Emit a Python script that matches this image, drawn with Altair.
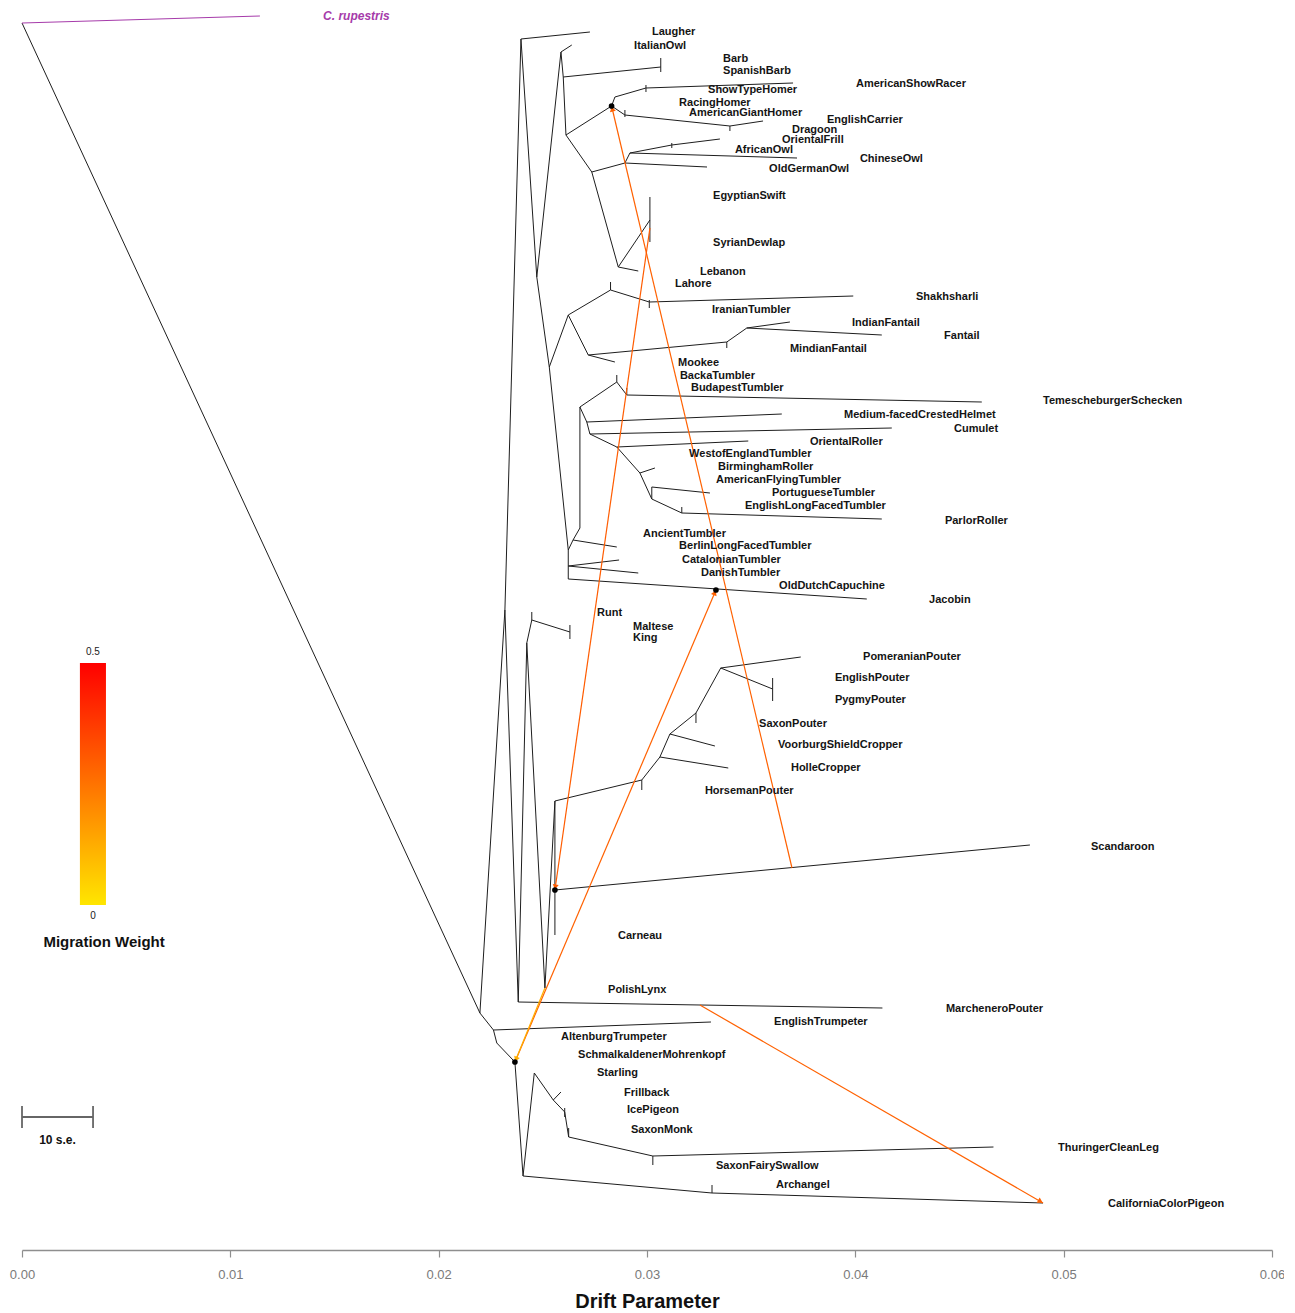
import math
import altair as alt
import pandas as pd

# ------------------------------------------------------------------
# Tree nodes: drift parameter (x) and vertical
# layout position of the drawn tree (y, small = top of the figure)
# ------------------------------------------------------------------
backbone_ids = ["root", "A", "B", "L1", "N2", "N4", "C", "D", "E", "F", "G",
                "NAT", "NAT2", "Q", "R"]
backbone_x = [0.0, 0.02198, 0.02318, 0.02395, 0.02471, 0.02531, 0.02382, 0.02423,
              0.02510, 0.02558, 0.02558, 0.02263, 0.02279, 0.02366, 0.02405]
backbone_y = [23, 1013, 610, 39, 277, 367, 1002, 643, 988, 801, 890,
              1030, 1043, 1062, 1176]

top_ids = ["laugher", "N3", "italian", "N3b", "barb", "N7", "H", "H1", "H2", "showracer",
           "H3", "H4", "carrier", "N8", "owlA", "owlB", "chinese", "owlC", "african",
           "oldgerman", "N9", "swift", "lebanon"]
top_x = [0.02726, 0.02587, 0.02639, 0.02598, 0.03066, 0.02611, 0.02830, 0.02846, 0.02995,
         0.03701, 0.02894, 0.03398, 0.03557, 0.02735, 0.02894, 0.02918, 0.03720, 0.03119,
         0.03350, 0.03288, 0.02862, 0.03014, 0.02958]
top_y = [32, 52, 45, 77, 67, 135, 106, 97, 88, 83, 115, 126, 121, 172, 163, 153, 158, 145,
         139, 167, 267, 220, 271]

fantail_ids = ["N5", "N5a", "N5b", "shakh", "N5c", "mookee", "N5d", "N5e", "indianfan", "fantail"]
fantail_x = [0.02622, 0.02825, 0.03011, 0.03990, 0.02718, 0.02846, 0.03383, 0.03479, 0.03686, 0.04127]
fantail_y = [315, 290, 302, 296, 355, 362, 342, 328, 322, 335]

tumbler_ids = ["N6", "T0", "ancient", "N6b", "berlin", "catalon", "N6c", "J", "jacobin",
               "T1", "T2", "T3", "T4", "temesch", "T5", "medfaced", "T6", "cumulet", "T7",
               "oroller", "T8", "T8b", "T9", "T9b", "portug", "T10", "parlor"]
tumbler_x = [0.02622, 0.02645, 0.02855, 0.02622, 0.02866, 0.02958, 0.02622, 0.03331, 0.04055,
             0.02678, 0.02678, 0.02855, 0.02903, 0.04607, 0.02711, 0.03647, 0.02726, 0.04175,
             0.02855, 0.03486, 0.02966, 0.03038, 0.03023, 0.03023, 0.03302, 0.03167, 0.04127]
tumbler_y = [550, 540, 547, 566, 560, 573, 579, 590, 599, 528, 407, 382, 395, 402, 422, 414,
             434, 428, 447, 441, 473, 468, 499, 487, 493, 513, 519]

pouter_ids = ["marchenero", "runt", "MK", "carneau", "scand", "P1", "P2", "horseman", "P3",
              "holle", "P4", "P5", "pomeranian", "P6"]
pouter_x = [0.04130, 0.02447, 0.02630, 0.02558, 0.04838, 0.02975, 0.03062, 0.03390, 0.03110,
            0.03326, 0.03235, 0.03354, 0.03738, 0.03603]
pouter_y = [1008, 620, 632, 935, 845, 780, 757, 768, 734, 746, 713, 668, 657, 689]

basal_ids = ["trumpeter", "S", "S1", "S1b", "S2", "S3", "S4", "thuringer", "arch", "california"]
basal_x = [0.03307, 0.02459, 0.02550, 0.02587, 0.02605, 0.02624, 0.03028, 0.04663, 0.03312, 0.04901]
basal_y = [1022, 1073, 1100, 1092, 1112, 1137, 1156, 1147, 1193, 1203]

edge_from = ["root", "A", "B", "L1", "L1", "N2", "N3", "N3", "N3b", "N3b", "N7", "H", "H1", "H2",
             "H", "H3", "H4", "N7", "N8", "owlA", "owlA", "owlB", "owlB", "owlC", "N8", "N9", "N9",
             "N2", "N4", "N5", "N5a", "N5b", "N5", "N5c", "N5c", "N5d", "N5e", "N5e",
             "N4", "N6", "T0", "T0", "N6", "N6b", "N6b", "N6b", "N6c", "T1", "T2", "T3", "T4",
             "T2", "T5", "T5", "T6", "T6", "T7", "T7", "T8", "T8", "T9", "T9b", "T9", "T10",
             "B", "C", "C", "D", "runt", "D", "E", "F", "G", "G", "F", "P1", "P2", "P2", "P3",
             "P3", "P4", "P5", "P5",
             "A", "NAT", "NAT", "NAT2", "Q", "R", "S", "S1", "S1", "S2", "S3", "S4", "R", "arch"]
edge_to = ["A", "B", "L1", "laugher", "N2", "N3", "italian", "N3b", "barb", "N7", "H", "H1", "H2",
           "showracer", "H3", "H4", "carrier", "N8", "owlA", "owlB", "oldgerman", "chinese",
           "owlC", "african", "N9", "swift", "lebanon",
           "N4", "N5", "N5a", "N5b", "shakh", "N5c", "mookee", "N5d", "N5e", "indianfan", "fantail",
           "N6", "T0", "ancient", "T1", "N6b", "berlin", "catalon", "N6c", "jacobin", "T2", "T3",
           "T4", "temesch", "T5", "medfaced", "T6", "cumulet", "T7", "oroller", "T8", "T8b",
           "T9", "T9b", "portug", "T10", "parlor",
           "C", "marchenero", "D", "runt", "MK", "E", "F", "G", "carneau", "scand", "P1", "P2",
           "horseman", "P3", "holle", "P4", "P5", "pomeranian", "P6",
           "NAT", "trumpeter", "NAT2", "Q", "R", "S", "S1", "S1b", "S2", "S3", "S4", "thuringer",
           "arch", "california"]

# short vertical bars where two tips split with almost no drift
tick_node = ["barb", "H2", "H3", "H4", "owlC", "swift", "N5a", "N5b", "N5d", "T3", "T4", "T10",
             "runt", "MK", "P1", "P4", "P6", "S2", "S3", "S4", "arch"]
tick_top = [58, 85, 110, 126, 143, 197, 282, 300, 342, 375, 388, 507, 612, 625, 780, 713, 678,
            1108, 1128, 1156, 1185]
tick_bottom = [72, 92, 117, 131, 148, 242, 290, 308, 348, 382, 395, 513, 620, 639, 790, 723, 701,
               1117, 1137, 1165, 1193]

# outgroup
outgroup_name = "C. rupestris"
outgroup_x = 0.01142
outgroup_y = 16
outgroup_label_x = 0.01445

# migration edges (source -> target) and weights
mig_src_x = [0.03696, 0.03014, 0.02366, 0.02510, 0.03254]
mig_src_y = [868, 228, 1062, 988, 1005]
mig_dst_x = [0.02830, 0.02558, 0.03331, 0.02366, 0.04901]
mig_dst_y = [106, 890, 590, 1062, 1203]
mig_weight = [0.29, 0.30, 0.29, 0.12, 0.29]

dot_nodes = ["H", "J", "G", "Q"]

tip_labels = ["Laugher", "ItalianOwl", "Barb", "SpanishBarb", "AmericanShowRacer", "ShowTypeHomer",
              "RacingHomer", "AmericanGiantHomer", "EnglishCarrier", "Dragoon", "OrientalFrill",
              "AfricanOwl", "ChineseOwl", "OldGermanOwl", "EgyptianSwift", "SyrianDewlap",
              "Lebanon", "Lahore", "Shakhsharli", "IranianTumbler", "IndianFantail", "Fantail",
              "MindianFantail", "Mookee", "BackaTumbler", "BudapestTumbler",
              "TemescheburgerSchecken", "Medium-facedCrestedHelmet", "Cumulet", "OrientalRoller",
              "WestofEnglandTumbler", "BirminghamRoller", "AmericanFlyingTumbler",
              "PortugueseTumbler", "EnglishLongFacedTumbler", "ParlorRoller", "AncientTumbler",
              "BerlinLongFacedTumbler", "CatalonianTumbler", "DanishTumbler",
              "OldDutchCapuchine", "Jacobin", "Runt", "Maltese", "King", "PomeranianPouter",
              "EnglishPouter", "PygmyPouter", "SaxonPouter", "VoorburgShieldCropper",
              "HolleCropper", "HorsemanPouter", "Scandaroon", "Carneau", "PolishLynx",
              "MarcheneroPouter", "EnglishTrumpeter", "AltenburgTrumpeter",
              "SchmalkaldenerMohrenkopf", "Starling", "Frillback", "IcePigeon", "SaxonMonk",
              "ThuringerCleanLeg", "SaxonFairySwallow", "Archangel", "CaliforniaColorPigeon"]
tip_label_x = [0.03024, 0.02938, 0.03365, 0.03365, 0.04003, 0.03293, 0.03154, 0.03202, 0.03864,
               0.03696, 0.03648, 0.03422, 0.04022, 0.03586, 0.03317, 0.03317, 0.03254, 0.03134,
               0.04291, 0.03312, 0.03984, 0.04426, 0.03686, 0.03149, 0.03158, 0.03211, 0.04901,
               0.03946, 0.04474, 0.03782, 0.03202, 0.03341, 0.03331, 0.03600, 0.03470, 0.04430,
               0.02981, 0.03154, 0.03168, 0.03259, 0.03634, 0.04354, 0.02760, 0.02933, 0.02933,
               0.04037, 0.03902, 0.03902, 0.03538, 0.03629, 0.03691, 0.03278, 0.05131, 0.02861,
               0.02813, 0.04435, 0.03610, 0.02587, 0.02669, 0.02760, 0.02890, 0.02904, 0.02923,
               0.04973, 0.03331, 0.03619, 0.05213]
tip_label_y = [32, 46, 59, 71, 84, 90, 103, 113, 120, 130, 140, 150, 159, 169, 196, 243, 272, 284,
               297, 310, 323, 336, 349, 363, 376, 388, 401, 415, 429, 442, 454, 467, 480, 493, 506,
               521, 534, 546, 560, 573, 586, 600, 613, 627, 638, 657, 678, 700, 724, 745, 768, 791,
               847, 936, 990, 1009, 1022, 1037, 1055, 1073, 1093, 1110, 1130, 1148, 1166, 1185,
               1204]

# legend (migration weight colour bar) and scale-bar annotations
mig_colors = ["#FFE600", "#FF0000"]      # colour at weight 0 and at weight 0.5
legend_title = "Migration Weight"
legend_max_label = "0.5"
legend_min_label = "0"
legend_bar_x = [0.00278, 0.00403]        # drift extent of the colour bar
legend_bar_y = [663, 905]                # vertical extent of the colour bar
scalebar_text = "10 s.e."
scalebar_len = 0.00341
scalebar_y = 1117

# ------------------------------------------------------------------
W, H = 1250, 1242
X_DOMAIN = [0, 0.06]
Y_DOMAIN = [8, 1250]

pos = {}
for ids, xs, ys in [(backbone_ids, backbone_x, backbone_y), (top_ids, top_x, top_y),
                    (fantail_ids, fantail_x, fantail_y), (tumbler_ids, tumbler_x, tumbler_y),
                    (pouter_ids, pouter_x, pouter_y), (basal_ids, basal_x, basal_y)]:
    for n, x, y in zip(ids, xs, ys):
        pos[n] = (x, y)

seg_rows = [{"x": pos[a][0], "y": pos[a][1], "x2": pos[b][0], "y2": pos[b][1]}
            for a, b in zip(edge_from, edge_to)]
seg_rows += [{"x": pos[n][0], "y": t, "x2": pos[n][0], "y2": b}
             for n, t, b in zip(tick_node, tick_top, tick_bottom)]
seg_df = pd.DataFrame(seg_rows)

out_df = pd.DataFrame([{"x": 0.0, "y": pos["root"][1], "x2": outgroup_x, "y2": outgroup_y}])

mig_df = pd.DataFrame({"x": mig_src_x, "y": mig_src_y, "x2": mig_dst_x, "y2": mig_dst_y,
                       "w": mig_weight})

px_per_x = W / (X_DOMAIN[1] - X_DOMAIN[0])
px_per_y = H / (Y_DOMAIN[1] - Y_DOMAIN[0])
arrow_rows = []
for xs, ys, xt, yt, w in zip(mig_src_x, mig_src_y, mig_dst_x, mig_dst_y, mig_weight):
    dx = (xt - xs) * px_per_x
    dy = (yt - ys) * px_per_y
    L = math.hypot(dx, dy)
    ux, uy = dx / L, dy / L
    ang = math.degrees(math.atan2(dx, -dy)) % 360
    arrow_rows.append({"x": xt - ux * 3 / px_per_x, "y": yt - uy * 3 / px_per_y,
                       "w": w, "angle": ang})
arrow_df = pd.DataFrame(arrow_rows)

dot_df = pd.DataFrame({"x": [pos[n][0] for n in dot_nodes], "y": [pos[n][1] for n in dot_nodes]})
lab_df = pd.DataFrame({"x": tip_label_x, "y": tip_label_y, "label": tip_labels})
outlab_df = pd.DataFrame({"x": [outgroup_label_x], "y": [outgroup_y], "label": [outgroup_name]})

bar_cx = (legend_bar_x[0] + legend_bar_x[1]) / 2
bar_df = pd.DataFrame({"x": [legend_bar_x[0]], "x2": [legend_bar_x[1]],
                       "y": [legend_bar_y[0]], "y2": [legend_bar_y[1]]})
leg_num_df = pd.DataFrame({"x": [bar_cx, bar_cx], "y": [legend_bar_y[0] - 11, legend_bar_y[1] + 11],
                           "label": [legend_max_label, legend_min_label]})
leg_title_df = pd.DataFrame({"x": [0.00394], "y": [942], "label": [legend_title]})
sb_df = pd.DataFrame({"x": [0.0, 0.0, scalebar_len], "y": [scalebar_y, scalebar_y - 11, scalebar_y - 11],
                      "x2": [scalebar_len, 0.0, scalebar_len],
                      "y2": [scalebar_y, scalebar_y + 11, scalebar_y + 11]})
sb_text_df = pd.DataFrame({"x": [scalebar_len / 2], "y": [1140], "label": [scalebar_text]})

# ------------------------------------------------------------------
xscale = alt.Scale(domain=X_DOMAIN, nice=False, zero=False)
yscale = alt.Scale(domain=Y_DOMAIN, reverse=True, nice=False, zero=False)
xaxis = alt.Axis(values=[0, 0.01, 0.02, 0.03, 0.04, 0.05, 0.06], format=".2f",
                 title="Drift Parameter", grid=False, domainColor="#8e8e8e", domainWidth=1.6,
                 tickColor="#8e8e8e", tickSize=7, tickWidth=1.2, labelColor="#7a7a7a",
                 labelFont="Liberation Sans Narrow, Liberation Sans, sans-serif",
                 labelFontSize=13, labelPadding=11, labelFlush=False,
                 titleFont="Liberation Sans", titleFontSize=20, titleFontWeight="bold",
                 titleColor="#111111", titlePadding=10)


def X(f="x"):
    return alt.X(f, type="quantitative", scale=xscale, axis=xaxis)


def Y(f="y"):
    return alt.Y(f, type="quantitative", scale=yscale, axis=None)


cscale = alt.Scale(domain=[0, 0.5], range=mig_colors, interpolate="rgb")
sscale = alt.Scale(domain=[0, 0.5], range=mig_colors, interpolate="rgb")

tree = alt.Chart(seg_df).mark_rule(color="#1e1e1e", strokeWidth=1).encode(
    x=X(), y=Y(), x2=alt.X2("x2"), y2=alt.Y2("y2"))
outgroup = alt.Chart(out_df).mark_rule(color="#A63BAA", strokeWidth=1).encode(
    x=X(), y=Y(), x2=alt.X2("x2"), y2=alt.Y2("y2"))
migr = alt.Chart(mig_df).mark_rule(strokeWidth=1.2).encode(
    x=X(), y=Y(), x2=alt.X2("x2"), y2=alt.Y2("y2"),
    stroke=alt.Stroke("w", type="quantitative", scale=sscale, legend=None))
arrows = alt.Chart(arrow_df).mark_point(shape="triangle-up", filled=True, size=36, opacity=1,
                                        strokeWidth=0).encode(
    x=X(), y=Y(), angle=alt.Angle("angle", type="quantitative", scale=None),
    color=alt.Color("w", type="quantitative", scale=cscale, legend=None))
dots = alt.Chart(dot_df).mark_circle(color="#000000", size=32, opacity=1).encode(x=X(), y=Y())
labels = alt.Chart(lab_df).mark_text(align="left", baseline="middle", font="Liberation Sans",
                                     fontSize=11, fontWeight="bold", color="#141414").encode(
    x=X(), y=Y(), text="label")
outlab = alt.Chart(outlab_df).mark_text(align="left", baseline="middle", font="Liberation Sans",
                                        fontSize=12, fontWeight="bold", fontStyle="italic",
                                        color="#A63BAA").encode(x=X(), y=Y(), text="label")

gradient_fill = alt.LinearGradient(
    gradient="linear", x1=0, y1=1, x2=0, y2=0,
    stops=[alt.GradientStop(offset=0, color=mig_colors[0]),
           alt.GradientStop(offset=1, color=mig_colors[1])])
legbar = alt.Chart(bar_df).mark_rect(fill=gradient_fill, strokeWidth=0).encode(
    x=X(), y=Y(), x2=alt.X2("x2"), y2=alt.Y2("y2"))
legnum = alt.Chart(leg_num_df).mark_text(align="center", baseline="middle", font="Liberation Sans",
                                         fontSize=10, color="#222222").encode(
    x=X(), y=Y(), text="label")
legtitle = alt.Chart(leg_title_df).mark_text(align="center", baseline="middle", font="Liberation Sans",
                                             fontSize=15, fontWeight="bold", color="#111111").encode(
    x=X(), y=Y(), text="label")
sbar = alt.Chart(sb_df).mark_rule(color="#666666", strokeWidth=1.8).encode(
    x=X(), y=Y(), x2=alt.X2("x2"), y2=alt.Y2("y2"))
sbtext = alt.Chart(sb_text_df).mark_text(align="center", baseline="middle", font="Liberation Sans",
                                         fontSize=12, fontWeight="bold", color="#111111").encode(
    x=X(), y=Y(), text="label")

chart = alt.layer(tree, outgroup, migr, arrows, dots, labels, outlab, legbar, legnum, legtitle,
                  sbar, sbtext).properties(
    width=W, height=H,
    autosize=alt.AutoSizeParams(type="none"),
    padding={"left": 14, "top": 0, "right": 12, "bottom": 63},
).configure_view(strokeWidth=0)

chart.save("out.html", embed_options={"renderer": "svg", "actions": False})
